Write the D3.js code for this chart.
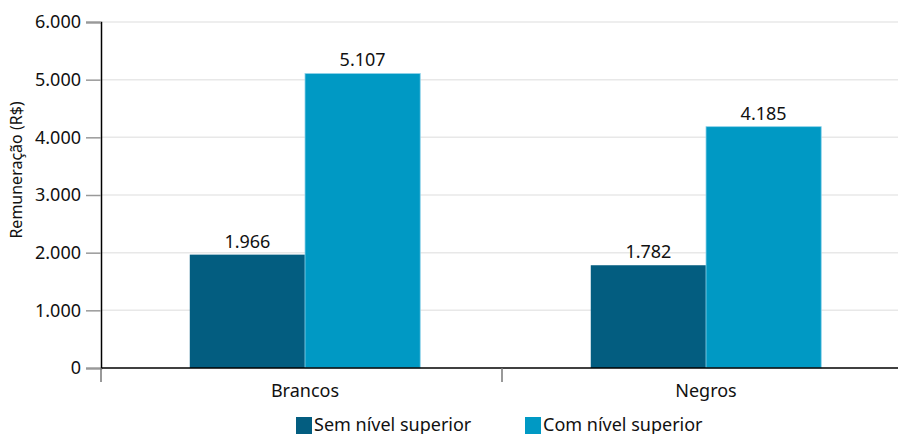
<!DOCTYPE html>
<meta charset="utf-8">
<head>
  <title>remuneracao</title>
</head>
<style>
  body { margin: 0; background: #fff; }
  text { font-family: "Noto Sans", sans-serif; fill: #111; }
</style>
<body>
  <svg width="898" height="434"></svg>
  <script src="https://cdnjs.cloudflare.com/ajax/libs/d3/7.8.5/d3.min.js"></script>
  <script>
    var categories = ['Brancos', 'Negros']
    var series = ['Sem nível superior', 'Com nível superior']
    var semSuperior = [1966, 1782]
    var comSuperior = [5107, 4185]
    var yTicks = [0, 1000, 2000, 3000, 4000, 5000, 6000]
    var colors = ['#035d80', '#0099c4']

    var values = [semSuperior, comSuperior]
    var fmt = function(v) { return d3.format(',')(v).replace(/,/g, '.') }

    var mLeft = 101, mRight = 903, mTop = 22, mBottom = 368
    var svg = d3.select('svg')

    var x = d3.scaleBand().domain(categories).range([mLeft, mRight])
    var y = d3.scaleLinear().domain([0, 6000]).range([mBottom, mTop])
    // bars sit a few px right of the band centre in the original
    var inner = d3.scaleBand().domain(series)
      .range([3.5, x.bandwidth() + 3.5]).paddingOuter(0.74)

    // grid
    svg.append('g').selectAll('line')
      .data(yTicks.filter(function(d) { return d > 0 }))
      .join('line')
      .attr('x1', mLeft).attr('x2', 898)
      .attr('y1', function(d) { return y(d) }).attr('y2', function(d) { return y(d) })
      .attr('stroke', '#e8e8e8').attr('stroke-width', 1.5)

    // bars
    categories.forEach(function(c, i) {
      series.forEach(function(s, j) {
        var v = values[j][i]
        svg.append('rect')
          .attr('x', x(c) + inner(s))
          .attr('y', y(v))
          .attr('width', inner.bandwidth())
          .attr('height', mBottom - y(v))
          .attr('fill', colors[j])
          .attr('stroke', j === 1 ? '#8fd3ea' : 'none')
          .attr('stroke-width', j === 1 ? 0.8 : 0)
        svg.append('text')
          .attr('x', x(c) + inner(s) + inner.bandwidth() / 2)
          .attr('y', y(v) - 7)
          .attr('text-anchor', 'middle')
          .style('font-size', '18px')
          .text(fmt(v))
      })
    })

    // y axis
    var yAxis = svg.append('g')
      .attr('transform', 'translate(' + mLeft + ',0)')
      .call(d3.axisLeft(y).tickValues(yTicks).tickSize(15).tickPadding(5).tickFormat(fmt))
    yAxis.select('.domain').attr('stroke', '#000').attr('stroke-width', 1.5)
    yAxis.selectAll('.tick line').attr('stroke', '#999').attr('stroke-width', 1.5)
    yAxis.selectAll('.tick text').style('font-size', '18px').style('font-family', '"Noto Sans", sans-serif').attr('fill', '#111')

    // x axis
    var xAxis = svg.append('g')
      .attr('transform', 'translate(0,' + mBottom + ')')
    xAxis.append('line')
      .attr('x1', mLeft).attr('x2', 898).attr('y1', 0).attr('y2', 0)
      .attr('stroke', '#000').attr('stroke-width', 1.5)
    xAxis.selectAll('.sep')
      .data(categories)
      .join('line')
      .attr('x1', function(d) { return x(d) }).attr('x2', function(d) { return x(d) })
      .attr('y1', 0).attr('y2', 14)
      .attr('stroke', '#777').attr('stroke-width', 1.5)
    xAxis.selectAll('.lab')
      .data(categories)
      .join('text')
      .attr('x', function(d) { return x(d) + x.bandwidth() / 2 + 3.5 })
      .attr('y', 29)
      .attr('text-anchor', 'middle')
      .style('font-size', '18px')
      .text(function(d) { return d })

    // y title
    svg.append('text')
      .attr('transform', 'translate(22,170) rotate(-90)')
      .attr('text-anchor', 'middle')
      .style('font-size', '16px')
      .text('Remuneração (R$)')

    // legend
    var legX = [296, 525]
    var leg = svg.append('g').selectAll('g')
      .data(series)
      .join('g')
      .attr('transform', function(d, i) { return 'translate(' + legX[i] + ',417)' })
    leg.append('rect')
      .attr('width', 16).attr('height', 17)
      .attr('fill', function(d, i) { return colors[i] })
    leg.append('text')
      .attr('x', 18).attr('y', 14)
      .style('font-size', '18px')
      .text(function(d) { return d })
  </script>
</body>
</html>
